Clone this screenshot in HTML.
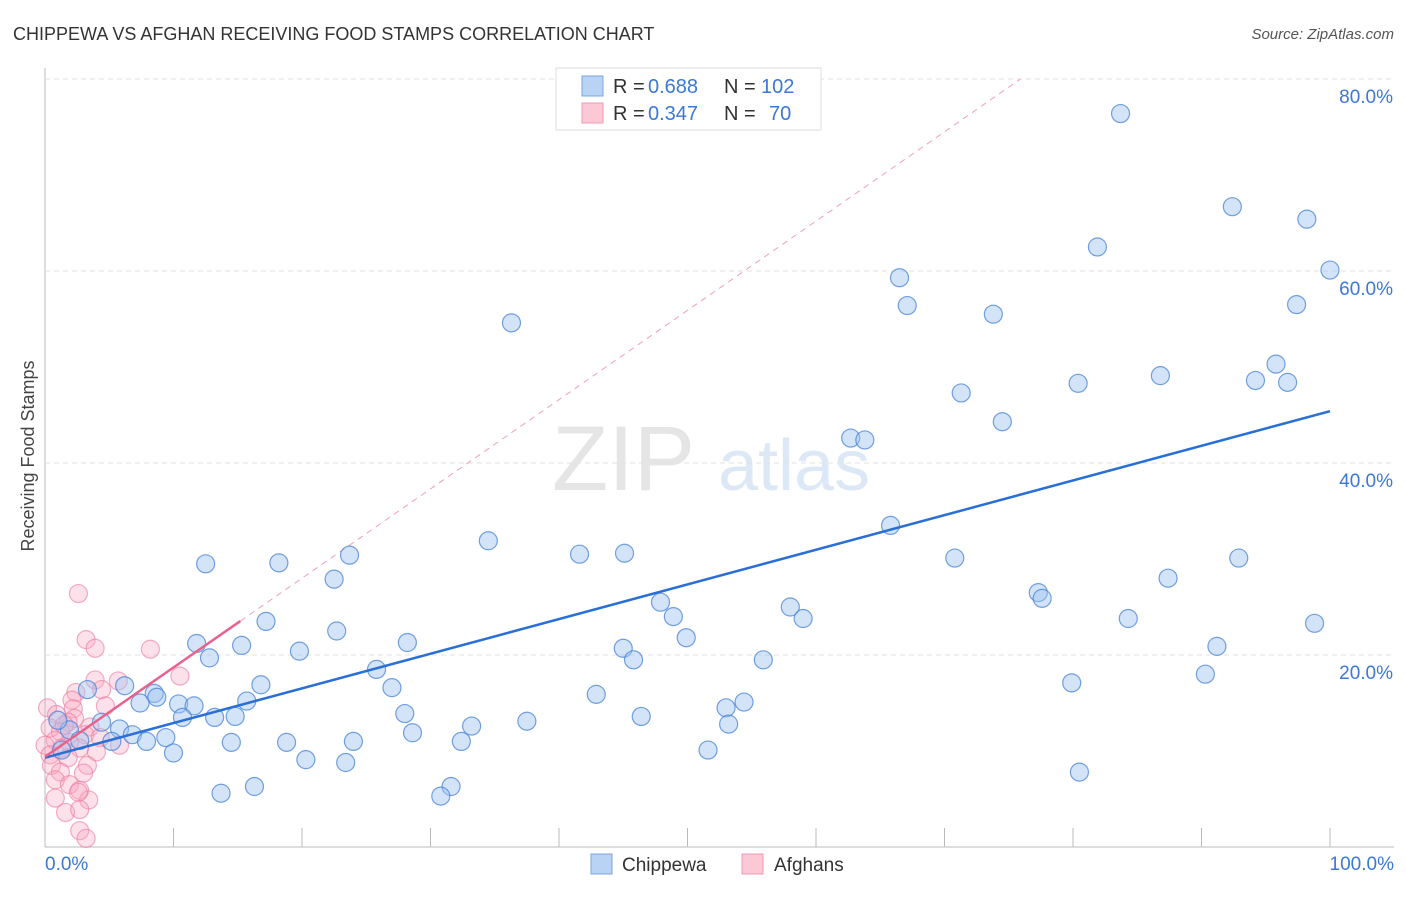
<!DOCTYPE html>
<html><head><meta charset="utf-8"><style>
body{margin:0;background:#fff;font-family:"Liberation Sans",sans-serif}
svg text{font-family:"Liberation Sans",sans-serif}
</style></head><body>
<svg width="1406" height="892" viewBox="0 0 1406 892" xmlns="http://www.w3.org/2000/svg" id="chart">
<text x="13" y="40" font-size="18" fill="#333">CHIPPEWA VS AFGHAN RECEIVING FOOD STAMPS CORRELATION CHART</text>
<text x="1394" y="39" font-size="15" fill="#555" font-style="italic" text-anchor="end">Source: ZipAtlas.com</text>
<text transform="translate(34,456) rotate(-90)" font-size="18" fill="#444" text-anchor="middle">Receiving Food Stamps</text>
<g opacity="0.25">
<text x="552" y="490" font-size="92" fill="#999" font-family="Liberation Serif">ZIP</text>
<text x="718" y="490" font-size="72" fill="#7aa6e0">atlas</text>
</g>
<g id="grid"></g><g id="lines"></g><g id="pts"></g>
<g>
<rect x="556" y="68" width="265" height="62" fill="#fff" stroke="#ddd"/>
<rect x="582" y="76" width="21" height="20" fill="#b9d3f5" stroke="#7aa6e0"/>
<rect x="582" y="103" width="21" height="20" fill="#fcc8d6" stroke="#f29ab3"/>
<text x="613" y="93" font-size="20" fill="#333">R =</text>
<text x="648" y="93" font-size="20" fill="#3b78d8">0.688</text>
<text x="724" y="93" font-size="20" fill="#333">N =</text>
<text x="761" y="93" font-size="20" fill="#3b78d8">102</text>
<text x="613" y="120" font-size="20" fill="#333">R =</text>
<text x="648" y="120" font-size="20" fill="#3b78d8">0.347</text>
<text x="724" y="120" font-size="20" fill="#333">N =</text>
<text x="769" y="120" font-size="20" fill="#3b78d8">70</text>
</g>
<g>
<rect x="591" y="854" width="21" height="20" fill="#b9d3f5" stroke="#7aa6e0"/>
<text x="622" y="871" font-size="19" fill="#333">Chippewa</text>
<rect x="742" y="854" width="21" height="20" fill="#fcc8d6" stroke="#f29ab3"/>
<text x="774" y="871" font-size="19" fill="#333">Afghans</text>
</g>
</svg>
<script>
const blueX=[83.7,92.4,98.2,81.9,100,66.5,67.1,36.3,73.8,97.4,95.8,86.8,80.4,94.2,96.7,71.3,74.5,62.7,63.8,65.8,34.5,41.6,45.1,23.7,12.5,18.2,70.8,92.9,87.4,22.5,77.3,77.6,47.9,48.9,58.0,59.0,84.3,98.8,17.2,22.7,49.9,28.2,11.8,15.3,91.2,19.8,45.0,45.8,12.8,55.9,25.8,90.3,79.9,16.8,6.2,27.0,3.3,8.5,8.7,42.9,15.7,54.4,7.4,10.4,11.6,53.0,10.7,28.0,13.2,14.8,46.4,37.5,53.2,33.2,4.4,5.8,1.9,6.8,28.6,9.4,5.2,7.9,14.5,18.8,24.0,32.4,10.0,51.6,20.3,23.4,80.5,31.6,16.3,13.7,30.8,1.0,2.7,1.3];
const blueY=[76.4,66.7,65.4,62.5,60.1,59.3,56.4,54.6,55.5,56.5,50.3,49.1,48.3,48.6,48.4,47.3,44.3,42.6,42.4,33.5,31.9,30.5,30.6,30.4,29.5,29.6,30.1,30.1,28.0,27.9,26.5,25.9,25.5,24.0,25.0,23.8,23.8,23.3,23.5,22.5,21.8,21.3,21.2,21.0,20.9,20.4,20.7,19.5,19.7,19.5,18.5,18.0,17.1,16.9,16.8,16.6,16.4,16.0,15.6,15.9,15.2,15.1,15.0,14.9,14.7,14.5,13.5,13.9,13.5,13.6,13.6,13.1,12.8,12.6,13.0,12.3,12.2,11.7,11.9,11.4,11.0,11.0,10.9,10.9,11.0,11.0,9.8,10.1,9.1,8.8,7.8,6.3,6.3,5.6,5.3,13.2,11.1,10.1];
const pinkX=[2.6,3.2,3.9,8.2,10.5,3.9,5.7,2.4,4.4,2.1,4.7,0.2,2.2,0.9,2.3,1.8,3.5,0.4,1.2,3.1,4.3,0.8,1.9,0,1.3,2.7,4.0,0.4,1.8,3.3,0.5,1.2,3.0,0.8,1.9,2.7,3.4,2.6,1.6,2.7,2.7,3.2,0.8,1.5,5.8];
const pinkY=[26.4,21.6,20.7,20.6,17.8,17.4,17.3,16.1,16.4,15.3,14.7,14.5,14.4,13.8,13.4,13.0,12.5,12.4,12.0,11.7,11.4,11.1,10.9,10.6,10.3,10.3,9.9,9.6,9.3,8.5,8.5,7.8,7.7,7.0,6.5,5.9,4.9,5.7,3.6,3.9,1.7,0.9,5.1,12.7,10.6];
const blueTrend=[9.3,45.4];
const pinkTrend=[9.4,0.93];
const yTicks=[20,40,60,80];
const xTicks=[0,10,20,30,40,50,60,70,80,90,100];
const NS='http://www.w3.org/2000/svg';
const sx=v=>45+v*12.85, sy=v=>847-v*9.6;
function mk(t,a,p){const e=document.createElementNS(NS,t);for(const k in a)e.setAttribute(k,a[k]);document.getElementById(p).appendChild(e);return e;}
let ax=mk('line',{x1:45,y1:68,x2:45,y2:847,stroke:'#bbb'},'grid');


let bx=mk('line',{x1:45,y1:847,x2:1394,y2:847,stroke:'#bbb'},'grid');


yTicks.forEach(v=>{
 let g=mk('line',{x1:45,y1:sy(v),x2:1394,y2:sy(v),stroke:'#e2e2e2','stroke-dasharray':'5,4'},'grid');
 
 
 let t=mk('text',{x:1393,y:sy(v)+24,'font-size':19,fill:'#3b78d8','text-anchor':'end'},'grid');
 t.textContent=v.toFixed(1)+'%';
 
 
});
xTicks.forEach(v=>{
 if(v>0){let m=mk('line',{x1:sx(v),y1:828,x2:sx(v),y2:847,stroke:'#bbb'},'grid');
 
 }
});
[[0,'0.0%','start',45],[100,'100.0%','end',1394]].forEach(([v,s,a,x])=>{
 let t=mk('text',{x:x,y:870,'font-size':19,fill:'#3b78d8','text-anchor':a},'grid');
 t.textContent=s;
 
 
});
const pEnd=(80-pinkTrend[0])/pinkTrend[1];
let d=mk('line',{x1:sx(15.2),y1:sy(pinkTrend[0]+pinkTrend[1]*15.2),x2:sx(pEnd),y2:sy(80),stroke:'#f0a0b8','stroke-dasharray':'6,5','stroke-width':1},'lines');


pinkX.forEach((x,i)=>{let c=mk('circle',{cx:sx(x),cy:sy(pinkY[i]),r:9,fill:'rgba(248,170,195,0.35)',stroke:'rgba(236,120,155,0.6)','stroke-width':1.2},'pts');
 
 });
blueX.forEach((x,i)=>{let c=mk('circle',{cx:sx(x),cy:sy(blueY[i]),r:9,fill:'rgba(160,195,240,0.45)',stroke:'rgba(70,130,215,0.75)','stroke-width':1.2},'pts');
 
 });
let bl=mk('line',{x1:sx(0),y1:sy(blueTrend[0]),x2:sx(100),y2:sy(blueTrend[1]),stroke:'#2a6fd6','stroke-width':2.5},'pts');


let pl=mk('line',{x1:sx(0),y1:sy(pinkTrend[0]),x2:sx(15.2),y2:sy(pinkTrend[0]+pinkTrend[1]*15.2),stroke:'#e8628d','stroke-width':2.5},'pts');


</script>
</body></html>
